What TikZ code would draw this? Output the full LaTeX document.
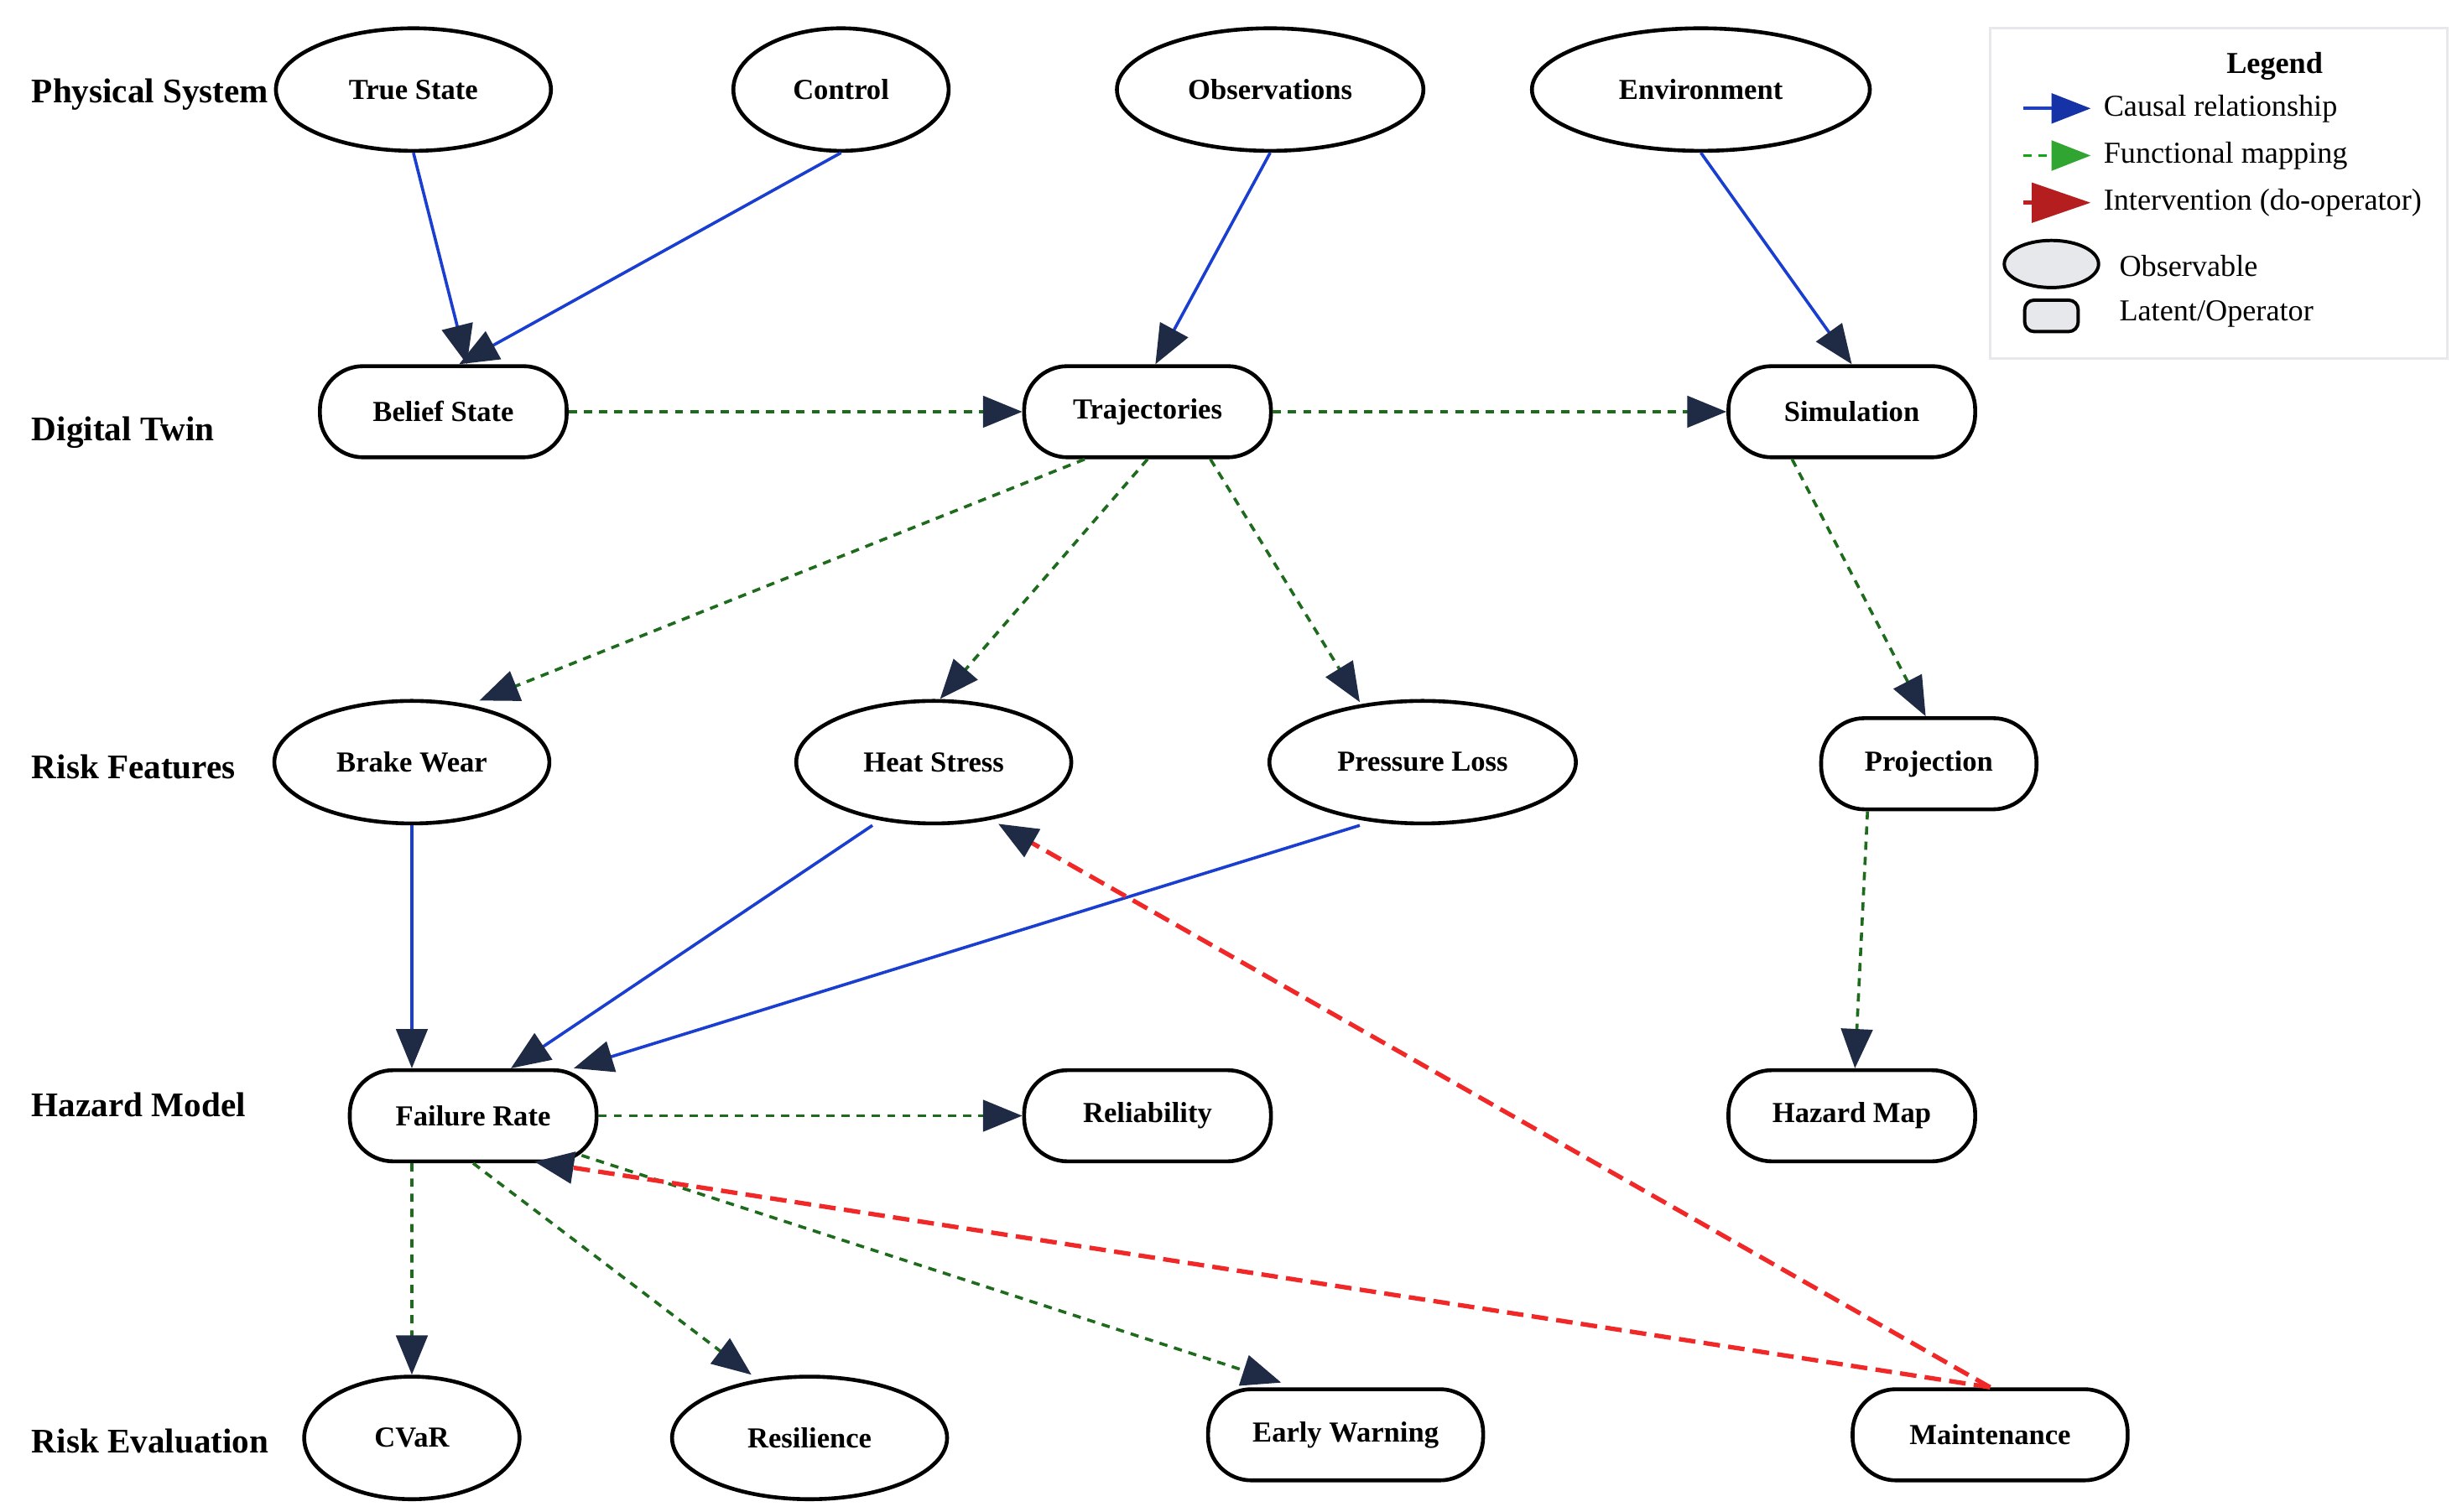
\documentclass[tikz,border=0pt]{standalone}
\usepackage{fontspec}
\setmainfont{Liberation Serif}
\usetikzlibrary{arrows.meta,shapes.geometric}
\definecolor{headc}{HTML}{1F2B45}
\definecolor{causal}{HTML}{1A3FD0}
\definecolor{func}{HTML}{1E6B1E}
\definecolor{interv}{HTML}{F02828}
\definecolor{lgray}{HTML}{E6E8EC}
\begin{document}
\begin{tikzpicture}[x=0.02cm,y=-0.02cm,
  obs/.style={draw,ellipse,line width=1.4pt,minimum height=1.56cm,inner sep=0pt,font=\bfseries\fontsize{10.5}{12}\selectfont},
  lat/.style={draw,rounded corners=0.55cm,line width=1.4pt,minimum height=1.16cm,inner sep=0pt,font=\bfseries\fontsize{10.5}{12}\selectfont},
  row/.style={anchor=west,font=\bfseries\fontsize{12.5}{14}\selectfont},
  hd/.style={-{Triangle[length=0.5cm,width=0.4cm,color=headc]}},
  causal/.style={hd,draw=causal,line width=1.1pt},
  func/.style={hd,draw=func,line width=1.1pt,dash pattern=on 3pt off 2.5pt},
  interv/.style={hd,draw=interv,line width=1.6pt,dash pattern=on 6pt off 3pt}]
\useasboundingbox (0,0) rectangle (1563,962);
% row labels
\node[row] (r1) at (14,60) {Physical System};
\node[row] (r2) at (14,275) {Digital Twin};
\node[row] (r3) at (14,488) {Risk Features};
\node[row] (r4) at (14,703) {Hazard Model};
\node[row] (r5) at (14,917) {Risk Evaluation};
% nodes
\node[obs,minimum width=3.5cm] (ts) at (263,57) {True State};
\node[obs,minimum width=2.74cm] (ctl) at (535,57) {Control};
\node[obs,minimum width=3.9cm] (ob) at (808,57) {Observations};
\node[obs,minimum width=4.3cm] (env) at (1082,57) {Environment};
\node[lat,minimum width=3.14cm] (bs) at (282,262) {Belief State};
\node[lat,minimum width=3.14cm] (tr) at (730,262) {Trajectories};
\node[lat,minimum width=3.14cm] (sim) at (1178,262) {Simulation};
\node[obs,minimum width=3.5cm] (bw) at (262,485) {Brake Wear};
\node[obs,minimum width=3.5cm] (hs) at (594,485) {Heat Stress};
\node[obs,minimum width=3.9cm] (pl) at (905,485) {Pressure Loss};
\node[lat,minimum width=2.74cm] (pj) at (1227,486) {Projection};
\node[lat,minimum width=3.14cm] (fr) at (301,710) {Failure Rate};
\node[lat,minimum width=3.14cm] (rel) at (730,710) {Reliability};
\node[lat,minimum width=3.14cm] (hm) at (1178,710) {Hazard Map};
\node[obs,minimum width=2.74cm] (cv) at (262,915) {CVaR};
\node[obs,minimum width=3.5cm] (res) at (515,915) {Resilience};
\node[lat,minimum width=3.5cm] (ew) at (856,913) {Early Warning};
\node[lat,minimum width=3.5cm] (mt) at (1266,913) {Maintenance};
% causal
\draw[causal] (ts.south) -- ([xshift=0.3cm]bs.north);
\draw[causal] (ctl.south) -- ([xshift=0.2cm]bs.north);
\draw[causal] (ob.south) -- ([xshift=0.1cm]tr.north);
\draw[causal] (env.south) -- (sim.north);
\draw[causal] (bw.south) -- ([xshift=-0.78cm]fr.north);
\draw[causal] ([xshift=-0.78cm]hs.south) -- ([xshift=0.48cm]fr.north);
\draw[causal] ([xshift=-0.8cm]pl.south) -- ([xshift=1.28cm]fr.north);
% functional
\draw[func] (bs) -- (tr);
\draw[func] (tr) -- (sim);
\draw[func] ([xshift=-0.8cm]tr.south) -- ([xshift=0.86cm,yshift=-0.02cm]bw.north);
\draw[func] (tr.south) -- ([xshift=0.08cm]hs.north);
\draw[func] ([xshift=0.8cm]tr.south) -- ([xshift=-0.8cm,yshift=-0.04cm]pl.north);
\draw[func] ([xshift=-0.76cm]sim.south) -- ([xshift=-0.04cm]pj.north);
\draw[func] ([xshift=-0.78cm]pj.south) -- ([xshift=0.04cm]hm.north);
\draw[func] (fr) -- (rel);
\draw[func] ([xshift=-0.78cm]fr.south) -- (cv.north);
\draw[func] (fr.south) -- ([xshift=-0.74cm]res.north);
\draw[func] ([xshift=1.38cm,yshift=0.1cm]fr.south) -- ([xshift=-0.82cm,yshift=0.06cm]ew.north);
% intervention
\coordinate (mtop) at (mt.north);
\draw[interv] (mtop) -- ([xshift=0.78cm,yshift=0.02cm]fr.south);
\draw[interv] (mtop) -- ([xshift=0.82cm,yshift=0.02cm]hs.south);
% legend
\node[draw=lgray,line width=1pt,minimum width=5.82cm,minimum height=4.2cm,inner sep=0pt] (lg) at (1411.5,123) {};
\node[font=\bfseries\fontsize{11}{13}\selectfont] (lt) at (1447,42) {Legend};
\coordinate (l1a) at (1287,69); \coordinate (l1b) at (1330,69);
\coordinate (l2a) at (1287,99); \coordinate (l2b) at (1330,99);
\coordinate (l3a) at (1287,129); \coordinate (l3b) at (1330,129);
\draw[causal,-{Triangle[length=0.5cm,width=0.38cm,color=causal!80!black]}] (l1a) -- (l1b);
\draw[func,draw=func!60!green,-{Triangle[length=0.5cm,width=0.38cm,color=func!50!green!70!gray]}] (l2a) -- (l2b);
\draw[interv,dash pattern={},draw=interv!80!black,-{Triangle[length=0.75cm,width=0.5cm,color=interv!75!black]}] (l3a) -- (l3b);
\node[anchor=west,font=\fontsize{11}{13}\selectfont] (t1) at (1332,69) {Causal relationship};
\node[anchor=west,font=\fontsize{11}{13}\selectfont] (t2) at (1332,99) {Functional mapping};
\node[anchor=west,font=\fontsize{11}{13}\selectfont] (t3) at (1332,129) {Intervention (do-operator)};
\node[draw,ellipse,fill=lgray,line width=1.2pt,minimum width=1.2cm,minimum height=0.6cm,inner sep=0pt] (le) at (1305,168) {};
\node[draw,rounded corners=0.12cm,fill=lgray,line width=1.2pt,minimum width=0.68cm,minimum height=0.4cm,inner sep=0pt] (lr) at (1305,201) {};
\node[anchor=west,font=\fontsize{11}{13}\selectfont] (t4) at (1342,169) {Observable};
\node[anchor=west,font=\fontsize{11}{13}\selectfont] (t5) at (1342,200) {Latent/Operator};
\end{tikzpicture}
\end{document}
